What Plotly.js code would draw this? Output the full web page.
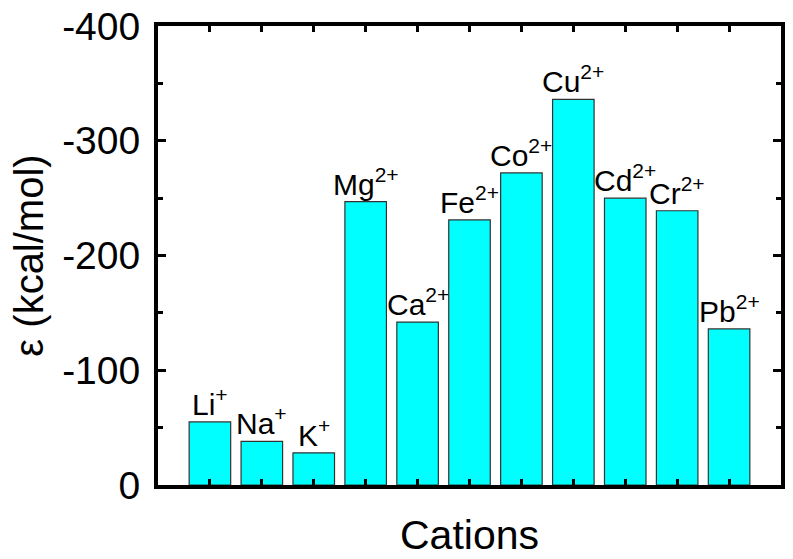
<!DOCTYPE html>
<html>
<head>
<meta charset="utf-8">
<script src="https://cdn.plot.ly/plotly-3.0.1.min.js"></script>
<style>
  body { margin: 0; background: #fff; }
  #myDiv { width: 793px; height: 559px; }
</style>
</head>
<body>
<div id="myDiv"></div>
<script>
// cations and their interaction energy (kcal/mol)
var cations = ['Li', 'Na', 'K', 'Mg', 'Ca', 'Fe', 'Co', 'Cu', 'Cd', 'Cr', 'Pb'];
var charges = ['+', '+', '+', '2+', '2+', '2+', '2+', '2+', '2+', '2+', '2+'];
var energy = [-55, -38, -28, -247, -142, -231, -272, -336, -250, -239, -136];

// y tick labels use a plain hyphen like the original
var yTicks = [0, -100, -200, -300, -400];
var yTickText = ['0', '-100', '-200', '-300', '-400'];

var font = 'Arial, "Liberation Sans", sans-serif';

var trace1 = {
  x: cations,
  y: energy,
  type: 'bar',
  width: 0.8,
  marker: {
    color: '#00FFFF',
    line: { color: '#333333', width: 1.2 }
  },
  hoverinfo: 'skip'
};

// labels sitting on top of each bar
var labels = cations.map(function (c, i) {
  return {
    x: c,
    y: energy[i],
    text: c + '<sup>' + charges[i] + '</sup>',
    showarrow: false,
    xanchor: 'center',
    yanchor: 'bottom',
    yshift: -1,
    font: { family: font, size: 30, color: '#000' }
  };
});

var layout = {
  width: 793,
  height: 559,
  margin: { l: 158, r: 12, t: 26, b: 74 },
  paper_bgcolor: '#fff',
  plot_bgcolor: '#fff',
  showlegend: false,
  bargap: 0.2,
  font: { family: font, color: '#000' },
  xaxis: {
    type: 'category',
    range: [-1, 11],
    showticklabels: false,
    ticks: 'inside',
    ticklen: 6,
    tickwidth: 3,
    tickcolor: '#000',
    showline: true,
    linewidth: 4,
    linecolor: '#000',
    mirror: 'allticks',
    showgrid: false,
    zeroline: false,
    title: { text: 'Cations', font: { size: 41 }, standoff: 33 }
  },
  yaxis: {
    range: [0, -400],
    tickmode: 'array',
    tickvals: yTicks,
    ticktext: yTickText,
    ticks: 'inside',
    ticklen: 8,
    tickwidth: 3,
    tickcolor: '#000',
    tickfont: { size: 39 },
    ticklabelstandoff: 6,
    minor: { dtick: 50, ticks: 'inside', ticklen: 5, tickwidth: 3, tickcolor: '#000' },
    showline: true,
    linewidth: 4,
    linecolor: '#000',
    mirror: 'allticks',
    showgrid: false,
    zeroline: false,
    title: { text: 'ε (kcal/mol)', font: { size: 40 }, standoff: 7 }
  },
  annotations: labels
};

Plotly.newPlot('myDiv', [trace1], layout, { displayModeBar: false });
</script>
</body>
</html>
